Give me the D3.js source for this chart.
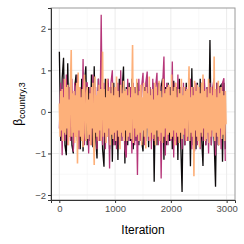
<!DOCTYPE html>
<html>
<head>
<meta charset="utf-8">
<script src="https://cdn.jsdelivr.net/npm/d3@7"></script>
<style>
  body { margin: 0; background: #fff; }
  text { font-family: "Liberation Sans", Arial, sans-serif; }
</style>
</head>
<body>
<script>
const width = 244;
const height = 244;
const margin = {top: 8, right: 9, bottom: 44, left: 51};

// trace values, thinned (chains 1-2 every 25th draw, chain 3 every 12.5th)
const chain1 = [1.45,-0.7,0.8,1.3,-0.8,-1.04,1.17,-0.6,0.7,-0.8,-1.0,0.6,0.9,-0.7,0.6,-0.9,0.8,-0.95,0.7,1.1,
  -0.8,0.6,-0.7,0.9,-0.85,1.1,-0.6,-1.12,0.8,-0.7,0.6,-0.9,-1.32,0.8,-0.6,0.7,-0.9,0.6,-1.2,0.7,
  -0.8,0.6,-1.16,0.8,-0.7,0.5,1.09,-1.24,0.6,-0.8,0.7,-0.7,0.8,-0.9,0.6,-0.7,0.7,-0.8,0.5,-0.7,
  -0.95,0.6,-0.7,0.8,-0.85,0.6,-0.7,0.7,-1.68,0.6,-0.8,0.7,-0.7,0.6,0.8,-1.15,0.6,-0.8,0.7,-0.7,
  0.6,-0.9,0.75,-0.7,0.6,-1.16,0.8,-0.7,-1.93,0.6,-0.8,0.7,-0.7,0.6,-1.31,1.05,-0.8,0.6,-0.9,0.7,
  -0.7,0.8,-0.6,-1.3,0.7,-0.8,0.6,-0.7,1.73,-0.8,0.6,-0.7,-1.8,0.7,-0.8,0.6,0.65,-1.2,0.7,-0.9];
const chain2 = [-0.4,0.7,-1.04,0.8,-0.7,0.9,-0.8,0.6,-0.7,0.8,-0.96,0.7,-0.6,0.9,-0.9,0.6,-0.7,1.27,-0.8,0.7,
  0.7,-1.0,0.6,-0.8,0.9,-0.7,0.6,-0.9,0.8,-0.7,2.34,-0.8,0.7,-0.9,0.6,0.8,-1.36,0.7,1.0,-0.8,
  0.6,-0.9,0.7,-0.8,1.0,-0.7,0.6,-0.9,-1.1,0.8,-0.7,0.6,-1.0,0.7,-0.8,0.6,-1.52,0.8,-0.7,0.6,
  0.94,-0.8,0.7,0.97,-0.7,0.6,-0.9,0.8,-0.7,0.6,0.94,-0.8,0.7,-1.6,0.6,1.33,-1.05,0.7,-0.8,0.6,
  -0.7,1.21,-1.1,0.7,-0.8,0.9,-0.7,0.6,-0.9,0.7,-0.8,0.6,-0.7,0.8,0.78,-0.9,0.6,-0.95,0.7,-0.8,
  0.6,-0.9,0.7,-0.7,0.8,-0.8,0.6,-1.0,0.7,-0.8,0.6,0.81,-1.05,0.7,-0.8,0.6,-0.9,0.7,0.81,-1.18];
const chain3 = [0.2,-0.6,0.5,-0.45,0.55,-0.7,0.35,-0.5,0.8,-0.55,0.6,-0.4,0.65,-0.8,0.3,-0.6,0.7,1.49,-0.6,0.45,
  -0.5,0.5,-0.75,0.4,-0.6,0.7,-1.24,0.95,-0.45,0.6,-0.6,0.35,-0.7,0.55,-0.85,0.5,0.9,-0.5,-0.7,0.45,
  0.6,-0.65,0.3,-0.55,0.45,-0.8,0.6,-0.4,0.7,-0.6,-1.28,0.85,-0.5,0.4,-0.6,0.5,-0.7,0.65,-0.45,0.55,
  -0.7,0.4,1.45,-0.6,0.55,-0.5,0.35,-0.75,0.8,-0.6,0.5,-0.4,0.6,-0.8,0.45,-0.55,0.7,-0.65,0.4,-0.5,
  0.6,-0.7,0.85,-0.45,0.5,-0.6,0.35,-0.9,0.65,-0.5,0.45,-0.6,0.75,-0.7,0.5,-0.45,0.55,-0.7,0.4,-0.6,
  0.6,-0.5,0.35,-0.65,0.5,1.61,-0.75,0.6,-0.4,0.45,-0.6,0.8,-0.55,0.4,-0.7,0.5,-0.5,0.65,-0.8,0.35,
  -0.45,0.7,-0.6,0.5,-0.88,0.6,-0.4,0.45,-0.6,0.85,-0.7,0.4,-0.5,0.55,-0.65,0.3,-0.55,0.7,-0.8,0.6,
  -0.45,0.4,-0.6,0.75,-0.7,0.5,-0.5,0.35,-0.75,0.8,-0.6,0.45,-0.4,0.55,-0.7,0.6,-0.55,0.65,-0.5,0.4,
  -0.65,0.9,-0.6,0.5,-0.45,0.6,-0.8,0.7,-0.5,0.35,-0.6,0.55,-0.75,0.45,-0.5,0.8,-0.65,0.4,-0.55,0.6,
  -0.4,0.5,-0.7,0.55,-0.6,0.45,1.1,-0.7,0.35,-0.5,0.6,-0.6,0.4,-1.55,0.75,-0.45,0.5,-0.6,0.65,-0.7,
  0.6,-0.85,0.45,-0.5,0.7,-0.6,0.9,-0.4,0.5,-0.7,0.55,-0.65,0.35,-0.5,0.8,-0.75,0.45,-0.6,0.6,-0.45,
  0.4,-0.6,1.33,-0.7,0.55,-0.5,0.35,-0.6,0.75,-0.8,0.45,-0.4,0.6,-0.65,0.5,-0.55,0.4,-0.7,0.5,-0.3];
const chains = [chain1, chain2, chain3];
const chainSteps = [25, 25, 12.5];
const chainColors = ["#0d0a0b", "#b63679", "#fdb07a"];

const xTicks = [0, 1000, 2000, 3000];
const xMinor = [500, 1500, 2500];
const yTicks = [-2, -1, 0, 1, 2];
const yMinor = [-1.5, -0.5, 0.5, 1.5];

const svg = d3.select("body").append("svg")
  .attr("width", width)
  .attr("height", height);

const x = d3.scaleLinear().domain([-149, 3150]).range([margin.left, width - margin.right]);
const y = d3.scaleLinear().domain([-2.12, 2.5]).range([height - margin.bottom, margin.top]);

// grid
const grid = svg.append("g");
grid.selectAll(".xminor").data(xMinor).join("line")
  .attr("x1", d => x(d)).attr("x2", d => x(d))
  .attr("y1", margin.top).attr("y2", height - margin.bottom)
  .attr("stroke", "#f4f4f4").attr("stroke-width", 0.6);
grid.selectAll(".yminor").data(yMinor).join("line")
  .attr("y1", d => y(d)).attr("y2", d => y(d))
  .attr("x1", margin.left).attr("x2", width - margin.right)
  .attr("stroke", "#f4f4f4").attr("stroke-width", 0.6);
grid.selectAll(".xmajor").data(xTicks).join("line")
  .attr("x1", d => x(d)).attr("x2", d => x(d))
  .attr("y1", margin.top).attr("y2", height - margin.bottom)
  .attr("stroke", "#ebebeb").attr("stroke-width", 1);
grid.selectAll(".ymajor").data(yTicks).join("line")
  .attr("y1", d => y(d)).attr("y2", d => y(d))
  .attr("x1", margin.left).attr("x2", width - margin.right)
  .attr("stroke", "#ebebeb").attr("stroke-width", 1);

// traces
svg.selectAll(".trace").data(chains).join("path")
  .attr("class", "trace")
  .attr("d", (d, c) => d3.line()
    .x((v, i) => x(1 + i * chainSteps[c]))
    .y(v => y(v))(d))
  .attr("fill", "none")
  .attr("stroke", (d, i) => chainColors[i])
  .attr("stroke-width", (d, i) => i === 2 ? 1.6 : 1.3);

// panel border
svg.append("rect")
  .attr("x", margin.left).attr("y", margin.top)
  .attr("width", width - margin.left - margin.right)
  .attr("height", height - margin.top - margin.bottom)
  .attr("fill", "none").attr("stroke", "#9a9a9a").attr("stroke-width", 1);

// axes
const xAxis = svg.append("g")
  .attr("transform", `translate(0,${height - margin.bottom})`)
  .call(d3.axisBottom(x).tickValues(xTicks).tickSize(3).tickPadding(2).tickFormat(d3.format("d")));
const yAxis = svg.append("g")
  .attr("transform", `translate(${margin.left},0)`)
  .call(d3.axisLeft(y).tickValues(yTicks).tickSize(3).tickPadding(2)
    .tickFormat(d => d < 0 ? "\u2212" + Math.abs(d) : d));
[xAxis, yAxis].forEach(a => {
  a.select(".domain").attr("stroke", "#333").attr("stroke-width", 1);
  a.selectAll(".tick line").attr("stroke", "#333");
  a.selectAll(".tick text").attr("fill", "#4d4d4d")
    .style("font-size", "9.5px").style("font-family", "'Liberation Sans', Arial, sans-serif");
});

// titles
svg.append("text")
  .attr("x", (margin.left + width - margin.right) / 2)
  .attr("y", 234)
  .attr("text-anchor", "middle")
  .style("font-size", "12px")
  .text("Iteration");

const yt = svg.append("text")
  .attr("transform", `translate(22,${(margin.top + height - margin.bottom) / 2}) rotate(-90)`)
  .attr("text-anchor", "middle")
  .style("font-size", "12px");
yt.append("tspan").text("\u03b2");
yt.append("tspan").attr("dy", 3).style("font-size", "9px").text("country,3");
</script>
</body>
</html>
